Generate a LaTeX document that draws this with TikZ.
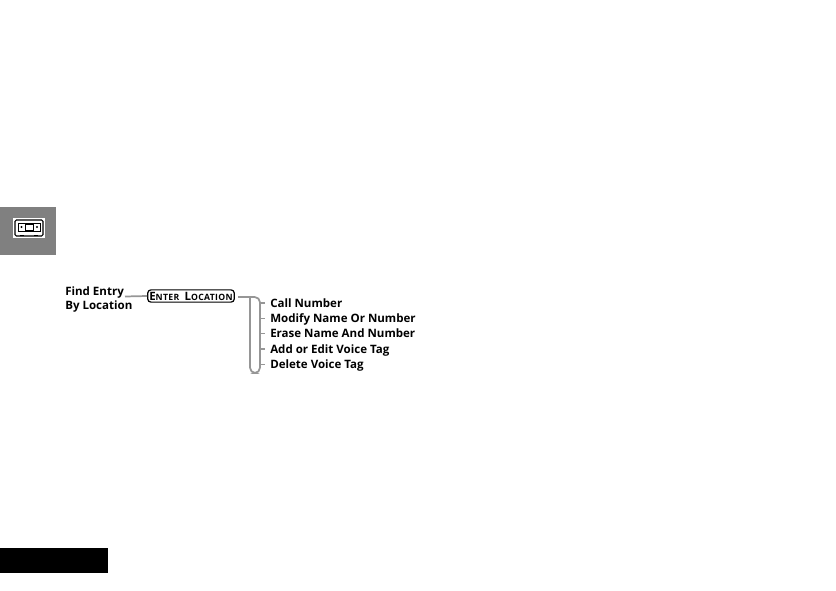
\documentclass[tikz,border=0pt]{standalone}
\usepackage{fontspec}
\setmainfont{Open Sans}
\usetikzlibrary{positioning}
\definecolor{TabGray}{RGB}{128,128,128}
\definecolor{LineGray}{RGB}{150,150,150}
\newcommand{\keyhigh}{\fontsize{8.6pt}{8pt}\selectfont}
\newcommand{\keylow}{\fontsize{6.5pt}{8pt}\selectfont}
\tikzset{
  entry/.style={font=\fontsize{8.65pt}{11.2pt}\selectfont\bfseries, inner sep=0pt, anchor=west,
    text height=6.2pt, text depth=0pt},
  softkey/.style={draw=black, line width=0.9pt, rounded corners=2.5pt, fill=white, minimum width=65pt,
    minimum height=9.2pt, inner sep=0pt, font=\bfseries},
  link/.style={LineGray, line width=1.3pt},
  twig/.style={LineGray, line width=1pt, shorten >=3.6pt},
  tape/.style={draw=black, line width=0.55pt}
}
\begin{document}
\begin{tikzpicture}[x=0.75pt,y=-0.75pt]
  \useasboundingbox (0,0) rectangle (836,590);
  % side tab and bottom bar
  \fill[TabGray] (0,207) rectangle (56,255);
  \fill[black] (0,548) rectangle (108,573);
  % cassette
  \fill[white] (13,218) rectangle (45,238);
  \draw[tape, line width=0.8pt, rounded corners=1pt] (15,220) rectangle (43,236);
  \draw[tape] (18,223) rectangle (40,231);
  \draw[tape, fill=white] (25.5,224) rectangle (33.5,230);
  \fill (21.5,227) circle (1.2);
  \fill (37,227) circle (1.2);
  \fill (20,234.5) rectangle (24,236);
  \fill (34,234.5) rectangle (38,236);
  % labels
  \node[entry] (find) at (65,291) {Find Entry};
  \node[entry] (by) at (65,305) {By Location};
  \node[softkey] (enter) at (191,296) {\addfontfeature{LetterSpace=4}\keyhigh E\keylow NTER\ \ \keyhigh L\keylow OCATION};
  \node[entry] (call) at (270,303) {Call Number};
  \node[entry] (modify) at (270,318.3) {Modify Name Or Number};
  \node[entry] (erase) at (270,333.6) {Erase Name And Number};
  \node[entry] (voice) at (270,349) {Add or Edit Voice Tag};
  \node[entry] (delete) at (270,364.4) {Delete Voice Tag};
  % connectors
  \coordinate (findend) at (125,296.5);
  \coordinate (enterout) at (238,297);
  \coordinate (spine) at (260,297);
  \draw[link] (findend) -- (enter.west);
  \draw[link, rounded corners=4pt] (enterout) -- (spine) -- (260,373) -- (250,373) -- (250,297);
  \foreach \item in {call,modify,erase,voice,delete}
    \draw[twig] (spine |- \item.west) -- (\item.west);
\end{tikzpicture}
\end{document}
